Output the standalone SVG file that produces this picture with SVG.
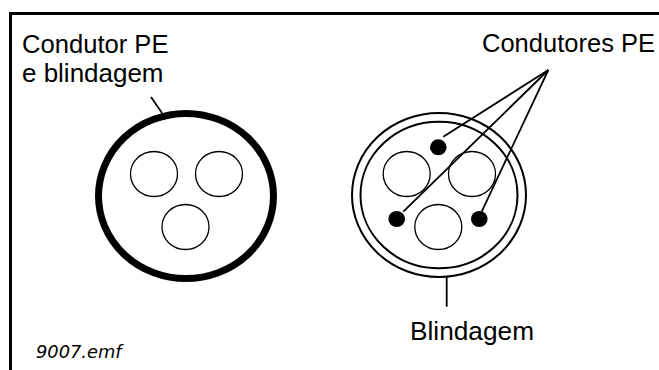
<svg xmlns="http://www.w3.org/2000/svg" width="659" height="370" viewBox="0 0 659 370">
<style>
.lbl{font-family:"Liberation Sans",Arial,sans-serif;font-size:25.5px;fill:#000}
.fn{font-family:"DejaVu Sans",Verdana,sans-serif;font-style:italic;font-size:17px;fill:#000}
.thin{fill:none;stroke:#000;stroke-width:1.3}
.ring{fill:none;stroke:#000;stroke-width:2}
.lead{fill:none;stroke:#000;stroke-width:1.8}
.dot{fill:#000}
</style>
<rect width="659" height="370" fill="#fff"/>
<g id="frame">
<path d="M10.5 370 V13.5 H659" fill="none" stroke="#000" stroke-width="3"/>
</g>
<g id="cable-left">
<ellipse cx="186" cy="196" rx="87.5" ry="82.5" fill="none" stroke="#000" stroke-width="7"/>
<ellipse class="thin" cx="154" cy="174" rx="23.5" ry="22.5"/>
<ellipse class="thin" cx="219" cy="174" rx="23.5" ry="22.5"/>
<ellipse class="thin" cx="185.5" cy="227" rx="23.5" ry="22.5"/>
</g>
<g id="cable-right">
<ellipse class="ring" cx="439" cy="195" rx="87" ry="82"/>
<ellipse class="ring" cx="439" cy="195" rx="78.5" ry="73.3"/>
<ellipse class="thin" cx="406.7" cy="174" rx="23.5" ry="22.5"/>
<ellipse class="thin" cx="472" cy="174" rx="23.5" ry="22.5"/>
<ellipse class="thin" cx="438.3" cy="227" rx="23.5" ry="22.5"/>
<ellipse class="dot" cx="438.3" cy="147.3" rx="8.3" ry="8"/>
<ellipse class="dot" cx="396.7" cy="219" rx="8.3" ry="8"/>
<ellipse class="dot" cx="479.3" cy="219" rx="8.3" ry="8"/>
</g>
<g id="connectors">
<line class="lead" x1="151" y1="97" x2="162" y2="113"/>
<line class="lead" x1="548.3" y1="70" x2="443.3" y2="136.7"/>
<line class="lead" x1="548.3" y1="70" x2="403.3" y2="211.7"/>
<line class="lead" x1="548.3" y1="70" x2="481.7" y2="211.7"/>
<line class="lead" x1="446.7" y1="277" x2="446.7" y2="306.7"/>
</g>
<g id="labels">
<text class="lbl" x="22" y="53.3" textLength="146.5" lengthAdjust="spacingAndGlyphs">Condutor PE</text>
<text class="lbl" x="22" y="81.7" textLength="141.5" lengthAdjust="spacingAndGlyphs">e blindagem</text>
<text class="lbl" x="482" y="52" textLength="173" lengthAdjust="spacingAndGlyphs">Condutores PE</text>
<text class="lbl" x="410" y="340" textLength="124" lengthAdjust="spacingAndGlyphs">Blindagem</text>
<text class="fn" x="36" y="358.3" textLength="85.5" lengthAdjust="spacingAndGlyphs">9007.emf</text>
</g>
</svg>
